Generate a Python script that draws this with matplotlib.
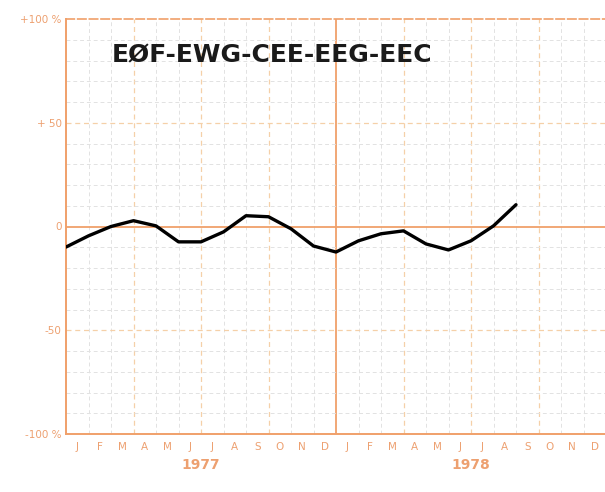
import numpy as np
import matplotlib
matplotlib.use("Agg")
import matplotlib.pyplot as plt
from matplotlib.transforms import blended_transform_factory

# ---- data ----
month_labels = ["J", "F", "M", "A", "M", "J", "J", "A", "S", "O", "N", "D"]
years = ["1977", "1978"]
# values (%) at month boundaries, starting at the start of Jan 1977
values = [-9.9, -4.5, 0.0, 2.8, 0.3, -7.4, -7.4, -2.6, 5.2, 4.7, -1.1,
          -9.4, -12.3, -6.9, -3.5, -2.1, -8.4, -11.3, -6.9, 0.3, 10.5]
y_ticks = [100, 50, 0, -50, -100]
y_ticklabels = ["+100 %", "+ 50", "0", "-50", "-100 %"]
title = "EØF-EWG-CEE-EEG-EEC"

orange = "#f0a06a"
orange_txt = "#eda070"
grid_gray = "#e2e2e2"
quarter_col = "#f5d0a8"

fig = plt.figure(figsize=(6.05, 4.92), dpi=100)
fig.patch.set_facecolor("white")
ax = fig.add_axes([66 / 605, 58 / 492, 540 / 605, 415 / 492])
ax.set_facecolor("white")

n_months = len(month_labels) * len(years)
ax.set_xlim(0, n_months)
ax.set_ylim(-100, 100)

# grid: months (vertical) and every 10% (horizontal)
for k in range(1, n_months):
    if k % 12 == 0:
        ax.axvline(k, color=orange, lw=1.3, zorder=1)
    elif k % 3 == 0:
        ax.axvline(k, color=quarter_col, lw=0.9, ls=(0, (4, 3)), zorder=1)
    else:
        ax.axvline(k, color=grid_gray, lw=0.7, ls=(0, (4, 3)), zorder=1)
for v in range(-90, 100, 10):
    if v == 0:
        ax.axhline(0, color=orange, lw=1.3, zorder=1)
    elif v % 50 == 0:
        ax.axhline(v, color=quarter_col, lw=0.9, ls=(0, (4, 3)), zorder=1)
    else:
        ax.axhline(v, color=grid_gray, lw=0.7, ls=(0, (4, 3)), zorder=1)

# data line
x = np.arange(len(values))
ax.plot(x, values, color="black", lw=2.4, solid_joinstyle="round",
        solid_capstyle="round", zorder=3)

# spines
for s in ["left", "bottom"]:
    ax.spines[s].set_color(orange)
    ax.spines[s].set_linewidth(1.4)
ax.spines["top"].set_color(orange)
ax.spines["top"].set_linewidth(1.2)
ax.spines["top"].set_linestyle((0, (5, 2)))
ax.spines["right"].set_visible(False)

# ticks
ax.set_yticks(y_ticks)
ax.set_yticklabels(y_ticklabels, color=orange_txt, fontsize=7.5)
ax.tick_params(axis="y", length=0, pad=3)
centers = np.arange(n_months) + 0.5
ax.set_xticks(centers)
ax.set_xticklabels(month_labels * len(years), color=orange_txt, fontsize=7.5,
                   family="DejaVu Sans")
ax.tick_params(axis="x", length=0, pad=6)

trans = blended_transform_factory(ax.transData, ax.transAxes)
for i, yr in enumerate(years):
    ax.text(12 * i + 6, -0.075, yr, transform=trans, ha="center", va="center",
            color=orange_txt, fontsize=10, fontweight="bold", clip_on=False)

ax.text(2.05, 82.5, title, fontsize=18, fontweight="bold", color="#1a1a1a",
        ha="left", va="center", family="DejaVu Sans", zorder=4)

fig.savefig("out.png", dpi=100, facecolor="white")
